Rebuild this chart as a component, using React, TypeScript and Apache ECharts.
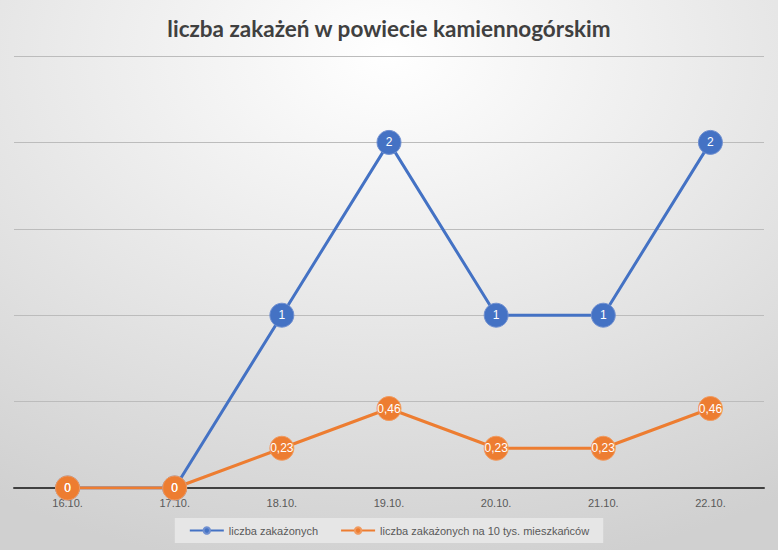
import React, { useEffect, useRef } from "react";
import * as echarts from "echarts";

const categories = ["16.10.", "17.10.", "18.10.", "19.10.", "20.10.", "21.10.", "22.10."];
const infected = [0, 0, 1, 2, 1, 1, 2];
const per10k = [0, 0, 0.23, 0.46, 0.23, 0.23, 0.46];
const seriesNames = ["liczba zakażonych", "liczba zakażonych na 10 tys. mieszkańców"];
const titleText = "liczba zakażeń w powiecie kamiennogórskim";

export default function App() {
  const ref = useRef<HTMLDivElement>(null);
  useEffect(() => {
    if (!ref.current) return;
    const chart = echarts.init(ref.current, undefined, { renderer: "svg" });
    const fmt = (p: any) => String(p.value).replace(".", ",");
    chart.setOption({
      animation: false,
      backgroundColor: {
        type: "radial",
        x: 0.5,
        y: 0.1,
        r: 0.95,
        colorStops: [
          { offset: 0, color: "#ffffff" },
          { offset: 1, color: "#d0d0d0" },
        ],
      },
      title: {
        text: titleText,
        left: "center",
        top: 12,
        textStyle: { fontFamily: "Lato", fontWeight: "bold", fontSize: 22.5, color: "#404040" },
      },
      grid: { left: 14, right: 14, top: 56, bottom: 62 },
      legend: {
        bottom: 7,
        left: "center",
        backgroundColor: "#e6e6e6",
        padding: [7, 14, 7, 14],
        itemWidth: 34,
        itemHeight: 8,
        itemGap: 22,
        textStyle: { fontFamily: "Liberation Sans", fontSize: 11, color: "#595959" },
        data: seriesNames,
      },
      xAxis: {
        type: "category",
        data: categories,
        boundaryGap: true,
        axisLine: { lineStyle: { color: "#404040", width: 2 } },
        axisTick: { show: false },
        axisLabel: { fontFamily: "Liberation Sans", fontSize: 11, color: "#595959", margin: 9 },
      },
      yAxis: {
        type: "value",
        min: 0,
        max: 2.5,
        interval: 0.5,
        axisLabel: { show: false },
        axisLine: { show: false },
        axisTick: { show: false },
        splitLine: { lineStyle: { color: "#bcbcbc", width: 1 } },
      },
      series: [
        {
          name: seriesNames[0],
          type: "line",
          data: infected,
          symbol: "circle",
          symbolSize: 24,
          itemStyle: { color: "#4472C4", borderColor: "#6f8fd0", borderWidth: 1 },
          lineStyle: { color: "#4472C4", width: 3 },
          label: {
            show: true,
            position: "inside",
            formatter: fmt,
            color: "#ffffff",
            fontFamily: "Liberation Sans",
            fontSize: 12,
          },
        },
        {
          name: seriesNames[1],
          type: "line",
          data: per10k,
          symbol: "circle",
          symbolSize: 24,
          itemStyle: { color: "#ED7D31", borderColor: "#f19a5e", borderWidth: 1 },
          lineStyle: { color: "#ED7D31", width: 3 },
          label: {
            show: true,
            position: "inside",
            formatter: fmt,
            color: "#ffffff",
            fontFamily: "Liberation Sans",
            fontSize: 12,
          },
        },
      ],
    });
    return () => chart.dispose();
  }, []);
  return (
    <div
      ref={ref}
      style={{ position: "absolute", left: 0, top: 0, width: 778, height: 550 }}
    />
  );
}
